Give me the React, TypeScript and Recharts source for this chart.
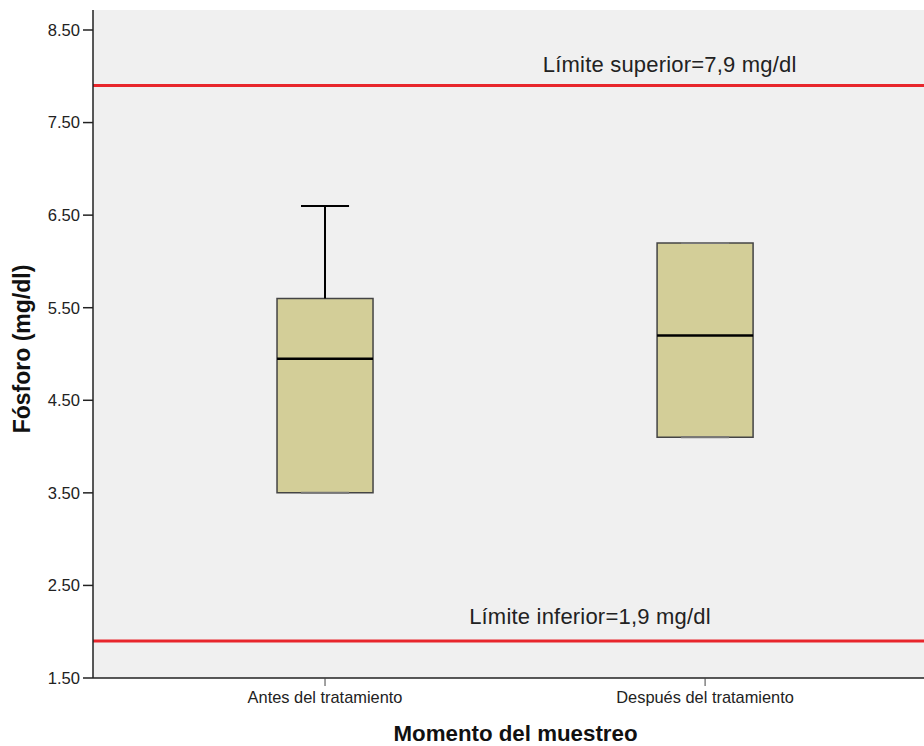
import React from 'react';
import {
  ComposedChart,
  XAxis,
  YAxis,
  CartesianGrid,
  ReferenceArea,
  ReferenceLine,
  Scatter,
} from 'recharts';

const categories = ['Antes del tratamiento', 'Después del tratamiento'];
const categoryX = [1, 2];
const mins = [3.5, 4.1];
const q1s = [3.5, 4.1];
const medians = [4.95, 5.2];
const q3s = [5.6, 6.2];
const maxs = [6.6, 6.2];
const yTicks = [1.5, 2.5, 3.5, 4.5, 5.5, 6.5, 7.5, 8.5];
const limitValues = [7.9, 1.9];
const limitLabels = ['Límite superior=7,9 mg/dl', 'Límite inferior=1,9 mg/dl'];

const BOX_HALF = 0.1263;
const CAP_HALF = 0.0632;
const FONT = 'Liberation Sans, Arial, sans-serif';

const points = categoryX.map((x, i) => ({ x, y: medians[i] }));

const limitLabelPos = [
  { fx: 0.694, dy: -14 },
  { fx: 0.598, dy: -17 },
];

const makeLimitLabel = (i: number) => (props: any) => {
  const vb = props.viewBox || {};
  const x = (vb.x || 0) + limitLabelPos[i].fx * (vb.width || 0);
  const y = (vb.y || 0) + limitLabelPos[i].dy;
  return (
    <text x={x} y={y} textAnchor="middle" fontFamily={FONT} fontSize={22} letterSpacing={0.2} fill="#222">
      {limitLabels[i]}
    </text>
  );
};

const YTitle = (props: any) => {
  const vb = props.viewBox || { x: 0, y: 0, width: 0, height: 0 };
  const cx = 22;
  const cy = vb.y + vb.height / 2 + 5;
  return (
    <text
      x={cx}
      y={cy}
      transform={`rotate(-90 ${cx} ${cy})`}
      textAnchor="middle"
      dominantBaseline="central"
      fontFamily={FONT}
      fontWeight="bold"
      fontSize={23}
      fill="#111"
    >
      Fósforo (mg/dl)
    </text>
  );
};

const XTitle = (props: any) => {
  const vb = props.viewBox || { x: 0, y: 0, width: 0, height: 0 };
  const cx = vb.x + vb.width / 2 + 7;
  return (
    <text x={cx} y={741} textAnchor="middle" fontFamily={FONT} fontWeight="bold" fontSize={22.3} fill="#111">
      Momento del muestreo
    </text>
  );
};

export default function App() {
  return (
    <div style={{ position: 'absolute', left: 0, top: 0, background: '#fff' }}>
      <ComposedChart width={924} height={746} margin={{ top: 10, right: 0, bottom: 0, left: 0 }} data={points}>
        <CartesianGrid fill="#f0f0f0" horizontal={false} vertical={false} />
        <XAxis
          dataKey="x"
          type="number"
          domain={[0.3895, 2.576]}
          ticks={categoryX}
          tickFormatter={(v: number) => categories[categoryX.indexOf(v)] ?? ''}
          allowDataOverflow
          height={68}
          tickSize={8}
          tickMargin={5}
          tick={{ fill: '#222', fontSize: 16.4, fontFamily: FONT }}
          tickLine={{ stroke: '#444' }}
          axisLine={{ stroke: '#222', strokeWidth: 1.5 }}
          label={XTitle}
        />
        <XAxis xAxisId="top" orientation="top" type="number" domain={[0, 1]} height={0} tick={false} tickLine={false} axisLine={{ stroke: '#888', strokeWidth: 2 }} />
        <YAxis
          type="number"
          domain={[1.5, 8.716]}
          ticks={yTicks}
          allowDataOverflow
          width={93}
          tickFormatter={(v: number) => v.toFixed(2)}
          tickSize={10}
          tickMargin={3}
          tick={{ fill: '#222', fontSize: 16.6, fontFamily: FONT }}
          tickLine={{ stroke: '#222', strokeWidth: 1.5 }}
          axisLine={{ stroke: '#222', strokeWidth: 1.5 }}
          label={YTitle}
        />
        {limitValues.map((v, i) => (
          <ReferenceLine key={`lim${i}`} y={v} stroke="#e8262c" strokeWidth={3} label={makeLimitLabel(i)} />
        ))}
        {categoryX.map((x, i) => (
          <ReferenceLine
            key={`wu${i}`}
            segment={[{ x, y: q3s[i] }, { x, y: maxs[i] }]}
            stroke="#000"
            strokeWidth={2}
          />
        ))}
        {categoryX.map((x, i) => (
          <ReferenceLine
            key={`wl${i}`}
            segment={[{ x, y: mins[i] }, { x, y: q1s[i] }]}
            stroke="#000"
            strokeWidth={2}
          />
        ))}
        {categoryX.map((x, i) => (
          <ReferenceLine
            key={`cu${i}`}
            segment={[{ x: x - CAP_HALF, y: maxs[i] }, { x: x + CAP_HALF, y: maxs[i] }]}
            stroke={maxs[i] === q3s[i] ? '#777' : '#000'}
            strokeWidth={2}
          />
        ))}
        {categoryX.map((x, i) => (
          <ReferenceLine
            key={`cl${i}`}
            segment={[{ x: x - CAP_HALF, y: mins[i] }, { x: x + CAP_HALF, y: mins[i] }]}
            stroke={mins[i] === q1s[i] ? '#777' : '#000'}
            strokeWidth={2}
          />
        ))}
        {categoryX.map((x, i) => (
          <ReferenceArea
            key={`box${i}`}
            x1={x - BOX_HALF}
            x2={x + BOX_HALF}
            y1={q1s[i]}
            y2={q3s[i]}
            fill="#d3ce98"
            fillOpacity={1}
            stroke="#444"
            strokeWidth={1.5}
          />
        ))}
        {categoryX.map((x, i) => (
          <ReferenceLine
            key={`med${i}`}
            segment={[{ x: x - BOX_HALF, y: medians[i] }, { x: x + BOX_HALF, y: medians[i] }]}
            stroke="#000"
            strokeWidth={2.5}
          />
        ))}
        <Scatter dataKey="y" isAnimationActive={false} shape={() => <g />} />
      </ComposedChart>
    </div>
  );
}
